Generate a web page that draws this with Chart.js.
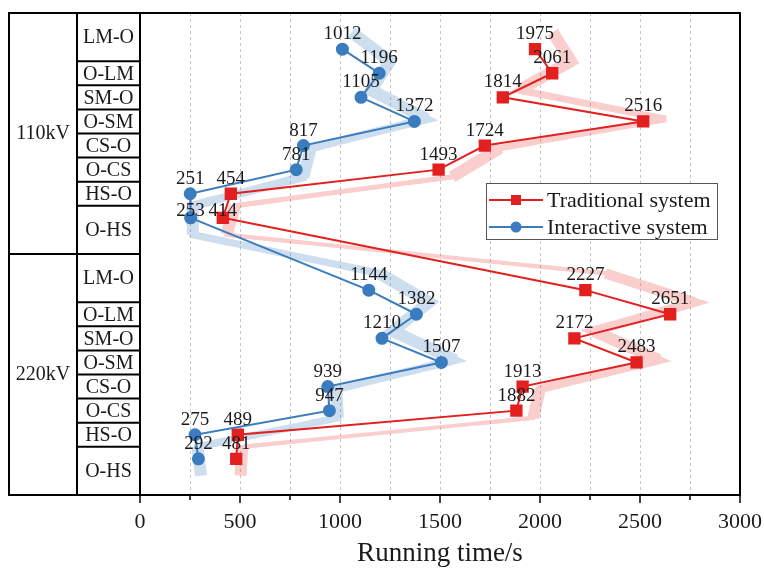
<!DOCTYPE html>
<html>
<head>
<meta charset="utf-8">
<script src="https://cdn.jsdelivr.net/npm/chart.js@4.4.1/dist/chart.umd.min.js"></script>
<style>
  html, body { margin: 0; padding: 0; background: #ffffff; }
  #wrap { width: 764px; height: 570px; }
</style>
</head>
<body>
<div id="wrap"><canvas id="runtime" width="764" height="570"></canvas></div>
<script>
// Voltage levels and the operation routes measured at each level
const voltageLevels = ['110kV', '220kV'];
const routes = ['LM-O', 'O-LM', 'SM-O', 'O-SM', 'CS-O', 'O-CS', 'HS-O', 'O-HS'];

// Running time (s) of each route
const traditional110 = [1975, 2061, 1814, 2516, 1724, 1493, 454, 414];
const traditional220 = [2227, 2651, 2172, 2483, 1913, 1882, 489, 481];
const interactive110 = [1012, 1196, 1105, 1372, 817, 781, 251, 253];
const interactive220 = [1144, 1382, 1210, 1507, 939, 947, 275, 292];

// Axis ticks
const xTickValues = [0, 500, 1000, 1500, 2000, 2500, 3000];
const xMinorStep = 250;

const seriesNames = ['Traditional system', 'Interactive system'];

// ---- layout / style constants ----
const SLOTS_PER_BLOCK = 10;          // each voltage block spans 10 row slots
const TABLE_LEFT = 9;                // left edge of the category table
const GROUP_COL_RIGHT = 77;          // divider between voltage and route columns
const RED = '#e2201f';
const BLUE = '#3a7cbe';
const SERIF = '"Liberation Serif", "Times New Roman", serif';

// vertical slot centre of a route inside a voltage block
function slotCenter(block, r) { return block * SLOTS_PER_BLOCK + 1 + r + 0.5; }
// slot range occupied by a route's table cell (first and last rows are double height)
function rowSpan(block, r) {
  const base = block * SLOTS_PER_BLOCK;
  if (r === 0) return [base, base + 2];
  if (r === routes.length - 1) return [base + r + 1, base + r + 3];
  return [base + r + 1, base + r + 2];
}
function buildPoints(a, b) {
  return [
    ...a.map((v, r) => ({ x: v, y: slotCenter(0, r) })),
    ...b.map((v, r) => ({ x: v, y: slotCenter(1, r) }))
  ];
}

// labels that sit lower than the usual offset (index in the joined series)
const labelDrop = { 7: 8 };

// soft ribbon behind a line: opaque on an offscreen layer, then composited translucently
function drawRibbon(chart, ds, alpha) {
  const { ctx, width, height, scales: { x, y } } = chart;
  const pts = ds.data.map((p, k) => {
    const block = Math.floor(k / routes.length);
    const mid = block * SLOTS_PER_BLOCK + 5;
    return [x.getPixelForValue(p.x * 1.045), y.getPixelForValue(mid + (p.y - mid) * 1.2)];
  });
  const widths = [];
  for (let k = 0; k < pts.length - 1; k++) {
    const dx = pts[k + 1][0] - pts[k][0], dy = pts[k + 1][1] - pts[k][1];
    const s = Math.abs(dy) / Math.hypot(dx, dy);
    widths.push(Math.max(3, Math.min(12, 1 + 30 * s)));
  }
  const off = document.createElement('canvas');
  off.width = width; off.height = height;
  const o = off.getContext('2d');
  o.strokeStyle = ds.borderColor;
  o.lineJoin = 'miter';
  o.miterLimit = 5;
  o.lineCap = 'butt';
  for (let k = 0; k < pts.length - 1; k++) {
    o.lineWidth = widths[k];
    o.beginPath(); o.moveTo(pts[k][0], pts[k][1]); o.lineTo(pts[k + 1][0], pts[k + 1][1]); o.stroke();
  }
  for (let k = 1; k < pts.length - 1; k++) {
    o.lineWidth = Math.min(widths[k - 1], widths[k]);
    const a = pts[k - 1], b = pts[k], c = pts[k + 1];
    o.beginPath();
    o.moveTo(b[0] + (a[0] - b[0]) * 0.2, b[1] + (a[1] - b[1]) * 0.2);
    o.lineTo(b[0], b[1]);
    o.lineTo(b[0] + (c[0] - b[0]) * 0.2, b[1] + (c[1] - b[1]) * 0.2);
    o.stroke();
  }
  ctx.save();
  ctx.globalAlpha = alpha;
  ctx.drawImage(off, 0, 0, width, height);
  ctx.restore();
}

const decorations = {
  id: 'decorations',
  beforeDatasetsDraw(chart) {
    const { ctx, chartArea: ca, scales: { x } } = chart;
    // dashed vertical grid
    ctx.save();
    ctx.strokeStyle = '#c6c6c6';
    ctx.lineWidth = 1;
    ctx.setLineDash([3, 3]);
    for (let v = xMinorStep; v < xTickValues[xTickValues.length - 1]; v += xMinorStep) {
      const px = Math.round(x.getPixelForValue(v)) + 0.5;
      ctx.beginPath(); ctx.moveTo(px, ca.top); ctx.lineTo(px, ca.bottom); ctx.stroke();
    }
    ctx.restore();
    chart.data.datasets.forEach((ds, i) => {
      if (chart.isDatasetVisible(i)) drawRibbon(chart, ds, ds.ribbonAlpha);
    });
  },
  afterDatasetsDraw(chart) {
    const { ctx } = chart;
    ctx.save();
    ctx.font = '19px ' + SERIF;
    ctx.fillStyle = '#1a1a1a';
    ctx.textAlign = 'center';
    ctx.textBaseline = 'middle';
    chart.data.datasets.forEach((ds, i) => {
      const meta = chart.getDatasetMeta(i);
      meta.data.forEach((el, k) => {
        const drop = labelDrop[k] || 0;
        ctx.fillText(String(ds.data[k].x), el.x, el.y - 15 + drop);
      });
    });
    ctx.restore();
  },
  afterDraw(chart) {
    const { ctx, chartArea: ca, scales: { x, y } } = chart;
    ctx.save();
    // x-axis tick marks (major every 500, minor every 250)
    ctx.strokeStyle = '#000';
    ctx.lineWidth = 1.5;
    for (let v = 0; v <= xTickValues[xTickValues.length - 1]; v += xMinorStep) {
      const px = x.getPixelForValue(v);
      const len = xTickValues.includes(v) ? 8 : 5;
      ctx.beginPath(); ctx.moveTo(px, ca.bottom); ctx.lineTo(px, ca.bottom + len); ctx.stroke();
    }
    // frame and category table
    ctx.lineWidth = 2;
    ctx.strokeRect(TABLE_LEFT, ca.top, ca.right - TABLE_LEFT, ca.bottom - ca.top);
    ctx.beginPath();
    ctx.moveTo(GROUP_COL_RIGHT, ca.top); ctx.lineTo(GROUP_COL_RIGHT, ca.bottom);
    ctx.moveTo(ca.left, ca.top); ctx.lineTo(ca.left, ca.bottom);
    ctx.stroke();
    ctx.fillStyle = '#1a1a1a';
    ctx.textAlign = 'center';
    ctx.textBaseline = 'middle';
    ctx.font = '20px ' + SERIF;
    voltageLevels.forEach((lvl, b) => {
      const top = y.getPixelForValue(b * SLOTS_PER_BLOCK);
      const bot = y.getPixelForValue((b + 1) * SLOTS_PER_BLOCK);
      if (b > 0) {
        ctx.beginPath(); ctx.moveTo(TABLE_LEFT, top); ctx.lineTo(ca.left, top); ctx.stroke();
      }
      ctx.fillText(lvl, (TABLE_LEFT + GROUP_COL_RIGHT) / 2, (top + bot) / 2);
      routes.forEach((rt, r) => {
        const [s0, s1] = rowSpan(b, r);
        const y0 = y.getPixelForValue(s0), y1 = y.getPixelForValue(s1);
        if (r > 0) {
          ctx.beginPath(); ctx.moveTo(GROUP_COL_RIGHT, y0); ctx.lineTo(ca.left, y0); ctx.stroke();
        }
        ctx.fillText(rt, (GROUP_COL_RIGHT + ca.left) / 2, (y0 + y1) / 2 + 1);
      });
    });
    // legend
    const lx = 486, ly = 183, lw = 231, lh = 56;
    ctx.fillStyle = '#fff';
    ctx.fillRect(lx, ly, lw, lh);
    ctx.strokeStyle = '#555';
    ctx.lineWidth = 1;
    ctx.strokeRect(lx + 0.5, ly + 0.5, lw, lh);
    chart.data.datasets.forEach((ds, i) => {
      const ry = ly + 17 + i * 27;
      ctx.strokeStyle = ds.borderColor;
      ctx.lineWidth = 2;
      ctx.beginPath(); ctx.moveTo(lx + 3, ry); ctx.lineTo(lx + 57, ry); ctx.stroke();
      ctx.fillStyle = ds.borderColor;
      if (ds.pointStyle === 'rect') ctx.fillRect(lx + 25, ry - 5, 10, 10);
      else { ctx.beginPath(); ctx.arc(lx + 30, ry, 5.5, 0, Math.PI * 2); ctx.fill(); }
      ctx.fillStyle = '#1a1a1a';
      ctx.textAlign = 'left';
      ctx.font = '22px ' + SERIF;
      ctx.fillText(ds.label, lx + 61, ry + 1);
    });
    ctx.restore();
  }
};

new Chart(document.getElementById('runtime'), {
  type: 'line',
  data: {
    datasets: [
      {
        label: seriesNames[0],
        data: buildPoints(traditional110, traditional220),
        borderColor: RED,
        backgroundColor: RED,
        pointBackgroundColor: RED,
        pointBorderColor: RED,
        pointStyle: 'rect',
        pointRadius: 7.3,
        borderWidth: 2,
        ribbonAlpha: 0.22,
        order: 2
      },
      {
        label: seriesNames[1],
        data: buildPoints(interactive110, interactive220),
        borderColor: BLUE,
        backgroundColor: BLUE,
        pointBackgroundColor: BLUE,
        pointBorderColor: BLUE,
        pointStyle: 'circle',
        pointRadius: 5.5,
        borderWidth: 2,
        ribbonAlpha: 0.25,
        order: 1
      }
    ]
  },
  options: {
    responsive: false,
    animation: false,
    devicePixelRatio: 1,
    layout: { padding: { left: 140, right: 24, top: 13, bottom: 0 } },
    plugins: { legend: { display: false }, tooltip: { enabled: false } },
    elements: { line: { tension: 0 } },
    scales: {
      x: {
        type: 'linear',
        min: xTickValues[0],
        max: xTickValues[xTickValues.length - 1],
        afterBuildTicks(scale) { scale.ticks = xTickValues.map(v => ({ value: v })); },
        afterFit(scale) {
          scale.height = 75;
          scale.paddingLeft = 0;
          scale.paddingRight = 0;
        },
        grid: { display: false, drawTicks: false },
        border: { display: false },
        ticks: {
          padding: 14,
          color: '#1a1a1a',
          font: { family: SERIF, size: 22 },
          callback: v => String(v)
        },
        title: {
          display: true,
          text: 'Running time/s',
          color: '#1a1a1a',
          font: { family: SERIF, size: 27 },
          padding: { top: 0, bottom: 0 }
        }
      },
      y: {
        type: 'linear',
        min: 0,
        max: SLOTS_PER_BLOCK * voltageLevels.length,
        reverse: true,
        display: false
      }
    }
  },
  plugins: [decorations]
});
</script>
</body>
</html>
